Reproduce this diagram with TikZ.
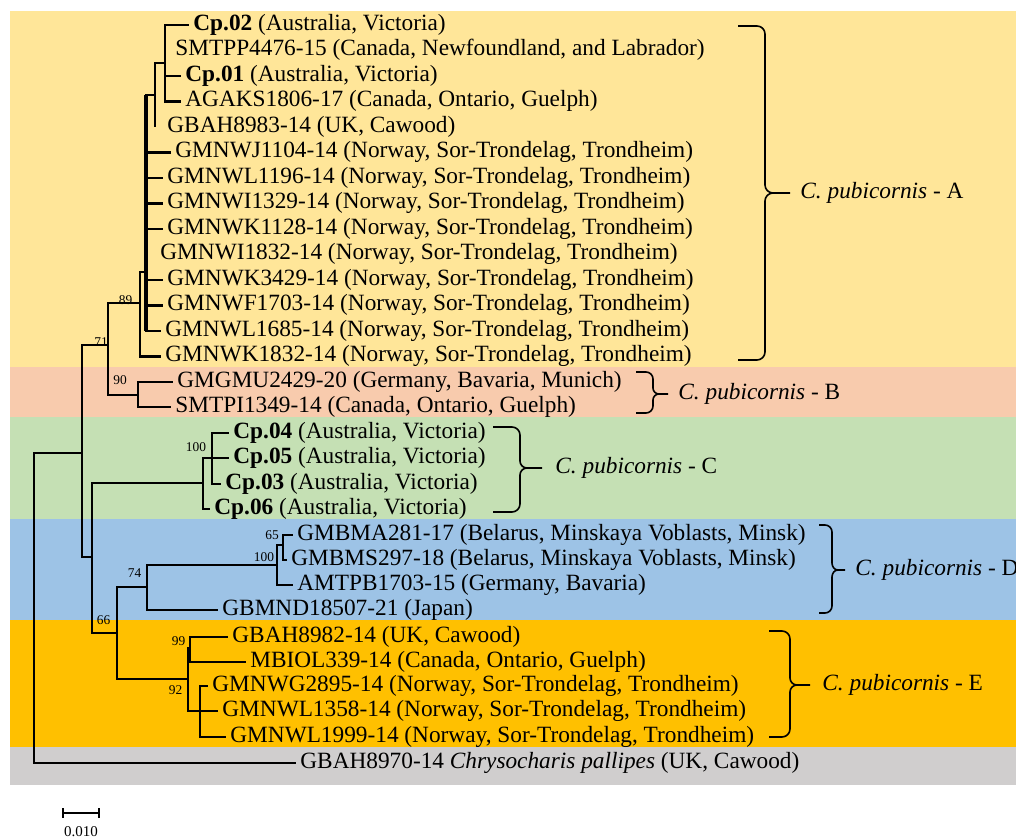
\documentclass[tikz,border=0pt]{standalone}
\usepackage{fontspec}
\setmainfont{Liberation Serif}
\usetikzlibrary{positioning}
\definecolor{bandA}{HTML}{FFE699}
\definecolor{bandB}{HTML}{F8CBAD}
\definecolor{bandC}{HTML}{C5E0B4}
\definecolor{bandD}{HTML}{9DC3E6}
\definecolor{bandE}{HTML}{FFC000}
\definecolor{bandO}{HTML}{D0CECE}
\newcommand{\cp}[1]{\textbf{Cp.#1} (Australia, Victoria)}
\newcommand{\nst}{(Norway, Sor-Trondelag, Trondheim)}

\begin{document}
\begin{tikzpicture}[x=0.5pt,y=-0.5pt,
  leaf/.style={anchor=west,inner xsep=2pt,inner ysep=0pt,text height=8pt,text depth=2.5pt,font=\fontsize{11.65}{13}\selectfont},
  boot/.style={inner sep=0pt,font=\fontsize{6.7}{7}\selectfont},
  branch/.style={line width=1.1pt},
  brk/.style={line width=0.8pt},
  cladename/.style={anchor=west,inner sep=0pt,font=\fontsize{11.65}{13}\selectfont}]
\useasboundingbox (0,0) rectangle (1016,838);
% coloured bands
\fill[bandA] (10,11) rectangle (1016,367);
\fill[bandB] (10,367) rectangle (1016,417);
\fill[bandC] (10,417) rectangle (1016,519);
\fill[bandD] (10,519) rectangle (1016,620);
\fill[bandE] (10,620) rectangle (1016,747);
\fill[bandO] (10,747) rectangle (1016,785);
% tips
\node[leaf] (cp02) at (189,25) {\cp{02}};
\node[leaf] (smtpp) at (171,50.5) {SMTPP4476-15 (Canada, Newfoundland, and Labrador)};
\node[leaf] (cp01) at (181,76) {\cp{01}};
\node[leaf] (agaks) at (181,101.5) {AGAKS1806-17 (Canada, Ontario, Guelph)};
\node[leaf] (gbah83) at (163,127) {GBAH8983-14 (UK, Cawood)};
\node[leaf] (j1104) at (171,152.5) {GMNWJ1104-14 \nst};
\node[leaf] (l1196) at (163,178) {GMNWL1196-14 \nst};
\node[leaf] (i1329) at (163,203.5) {GMNWI1329-14 \nst};
\node[leaf] (k1128) at (163,229) {GMNWK1128-14 \nst};
\node[leaf] (i1832) at (156,254.5) {GMNWI1832-14 \nst};
\node[leaf] (k3429) at (163,280) {GMNWK3429-14 \nst};
\node[leaf] (f1703) at (163,305.5) {GMNWF1703-14 \nst};
\node[leaf] (l1685) at (161,331) {GMNWL1685-14 \nst};
\node[leaf] (k1832) at (161,356.5) {GMNWK1832-14 \nst};
\node[leaf] (gmgmu) at (173,382) {GMGMU2429-20 (Germany, Bavaria, Munich)};
\node[leaf] (smtpi) at (171,407) {SMTPI1349-14 (Canada, Ontario, Guelph)};
\node[leaf] (cp04) at (229,433) {\cp{04}};
\node[leaf] (cp05) at (229,458) {\cp{05}};
\node[leaf] (cp03) at (221,484) {\cp{03}};
\node[leaf] (cp06) at (210,509) {\cp{06}};
\node[leaf] (bma) at (293,535) {GMBMA281-17 (Belarus, Minskaya Voblasts, Minsk)};
\node[leaf] (bms) at (287,560) {GMBMS297-18 (Belarus, Minskaya Voblasts, Minsk)};
\node[leaf] (amtpb) at (293,585) {AMTPB1703-15 (Germany, Bavaria)};
\node[leaf] (bmnd) at (218,610) {GBMND18507-21 (Japan)};
\node[leaf] (gbah82) at (228,637) {GBAH8982-14 (UK, Cawood)};
\node[leaf] (mbiol) at (246,662) {MBIOL339-14 (Canada, Ontario, Guelph)};
\node[leaf] (g2895) at (208,686) {GMNWG2895-14 \nst};
\node[leaf] (l1358) at (218,711) {GMNWL1358-14 \nst};
\node[leaf] (l1999) at (226,737) {GMNWL1999-14 \nst};
\node[leaf] (outg) at (296,763) {GBAH8970-14 \textit{Chrysocharis pallipes} (UK, Cawood)};
% internal nodes
\coordinate (R) at (165,63);
\coordinate (Q) at (155,95);
\coordinate (P) at (146,272);
\coordinate (N89) at (140,303);
\coordinate (N90) at (138,395);
\coordinate (N71) at (108,345);
\coordinate (NAB) at (82,453);
\coordinate (root) at (34,600);
\coordinate (NCE) at (92,557);
\coordinate (G) at (203,483);
\coordinate (H) at (212,458);
\coordinate (X) at (117,633);
\coordinate (N74) at (147,587);
\coordinate (D1) at (277,565);
\coordinate (D2) at (283,545);
\coordinate (E) at (188,679);
\coordinate (E99) at (190,648);
\coordinate (E92) at (200,711);
% branches
\draw[branch] (R) |- (cp02.west) (R) |- (cp01.west) (R) |- (agaks.west);
\draw[branch] (Q) |- (R) (Q) -- (Q |- gbah83.west);
\draw[branch] (P) |- (Q) (P) |- (j1104.west) (P) |- (l1196.west) (P) |- (i1329.west)
  (P) |- (k1128.west) (P) |- (k3429.west) (P) |- (f1703.west) (P) |- (l1685.west);
\draw[line width=1.8pt] (P |- Q) -- (P |- l1685.west);
\draw[branch] (N89) |- (P) (N89) |- (k1832.west);
\draw[branch] (N90) |- (gmgmu.west) (N90) |- (smtpi.west);
\draw[branch] (N71) |- (N89) (N71) |- (N90);
\draw[branch] (NAB) |- (N71) (NAB) |- (NCE);
\draw[branch] (root) |- (NAB) (root) |- (outg.west);
\draw[branch] (NCE) |- (G) (NCE) |- (X);
\draw[branch] (G) |- (cp05.west) (G) |- (cp06.west) (G) |- (H);
\draw[branch] (H) |- (cp04.west) (H) |- (cp03.west);
\draw[branch] (X) |- (N74) (X) |- (E);
\draw[branch] (N74) |- (D1) (N74) |- (bmnd.west);
\draw[branch] (D1) |- (D2) (D1) |- (amtpb.west);
\draw[branch] (D2) |- (bma.west) (D2) |- (bms.west);
\draw[branch] (E) |- (E99) (E) |- (E92);
\draw[branch] (E99) |- (gbah82.west) (E99) |- (mbiol.west);
\draw[branch] (E92) |- (g2895.west) (E92) |- (l1358.west) (E92) |- (l1999.west);
% bootstrap support
\node[boot] (s89) at (125.5,300) {89};
\node[boot] (s71) at (101,342) {71};
\node[boot] (s90) at (120,380) {90};
\node[boot] (s100c) at (196,447) {100};
\node[boot] (s65) at (272,535) {65};
\node[boot] (s100d) at (264,557) {100};
\node[boot] (s74) at (134.5,573) {74};
\node[boot] (s66) at (103.5,620) {66};
\node[boot] (s99) at (178.5,641) {99};
\node[boot] (s92) at (175.5,690) {92};
% clade brackets
\draw[brk] (738,26) -- (757,26) to[out=0,in=90] (765,34) -- (765,185) to[out=-90,in=180] (773,193) -- (790,193)
  (773,193) to[out=180,in=90] (765,201) -- (765,352) to[out=-90,in=0] (757,360) -- (738,360);
\draw[brk] (636,372) -- (646,372) to[out=0,in=90] (653,379) -- (653,388) to[out=-90,in=180] (659,394) -- (668,394)
  (659,394) to[out=180,in=90] (653,400) -- (653,406) to[out=-90,in=0] (646,413) -- (636,413);
\draw[brk] (493,427) -- (512,427) to[out=0,in=90] (520,435) -- (520,461) to[out=-90,in=180] (527,468) -- (542,468)
  (527,468) to[out=180,in=90] (520,475) -- (520,504) to[out=-90,in=0] (512,512) -- (493,512);
\draw[brk] (819,525) -- (825,525) to[out=0,in=90] (832,532) -- (832,563) to[out=-90,in=180] (838,570) -- (845,570)
  (838,570) to[out=180,in=90] (832,577) -- (832,606) to[out=-90,in=0] (825,613) -- (819,613);
\draw[brk] (769,631) -- (782,631) to[out=0,in=90] (790,639) -- (790,678) to[out=-90,in=180] (797,685) -- (810,685)
  (797,685) to[out=180,in=90] (790,692) -- (790,729) to[out=-90,in=0] (782,737) -- (769,737);
\node[cladename] (cladeA) at (800,193) {\textit{C. pubicornis} - A};
\node[cladename] (cladeB) at (678,394) {\textit{C. pubicornis} - B};
\node[cladename] (cladeC) at (555,468) {\textit{C. pubicornis} - C};
\node[cladename] (cladeD) at (855,570) {\textit{C. pubicornis} - D};
\node[cladename] (cladeE) at (822,685) {\textit{C. pubicornis} - E};
% scale bar
\draw[branch] (63,808) -- (63,818) (63,813) -- (99,813) (99,808) -- (99,818);
\node[boot,font=\fontsize{7.5}{8}\selectfont] (scale) at (81,832) {0.010};
\end{tikzpicture}
\end{document}
